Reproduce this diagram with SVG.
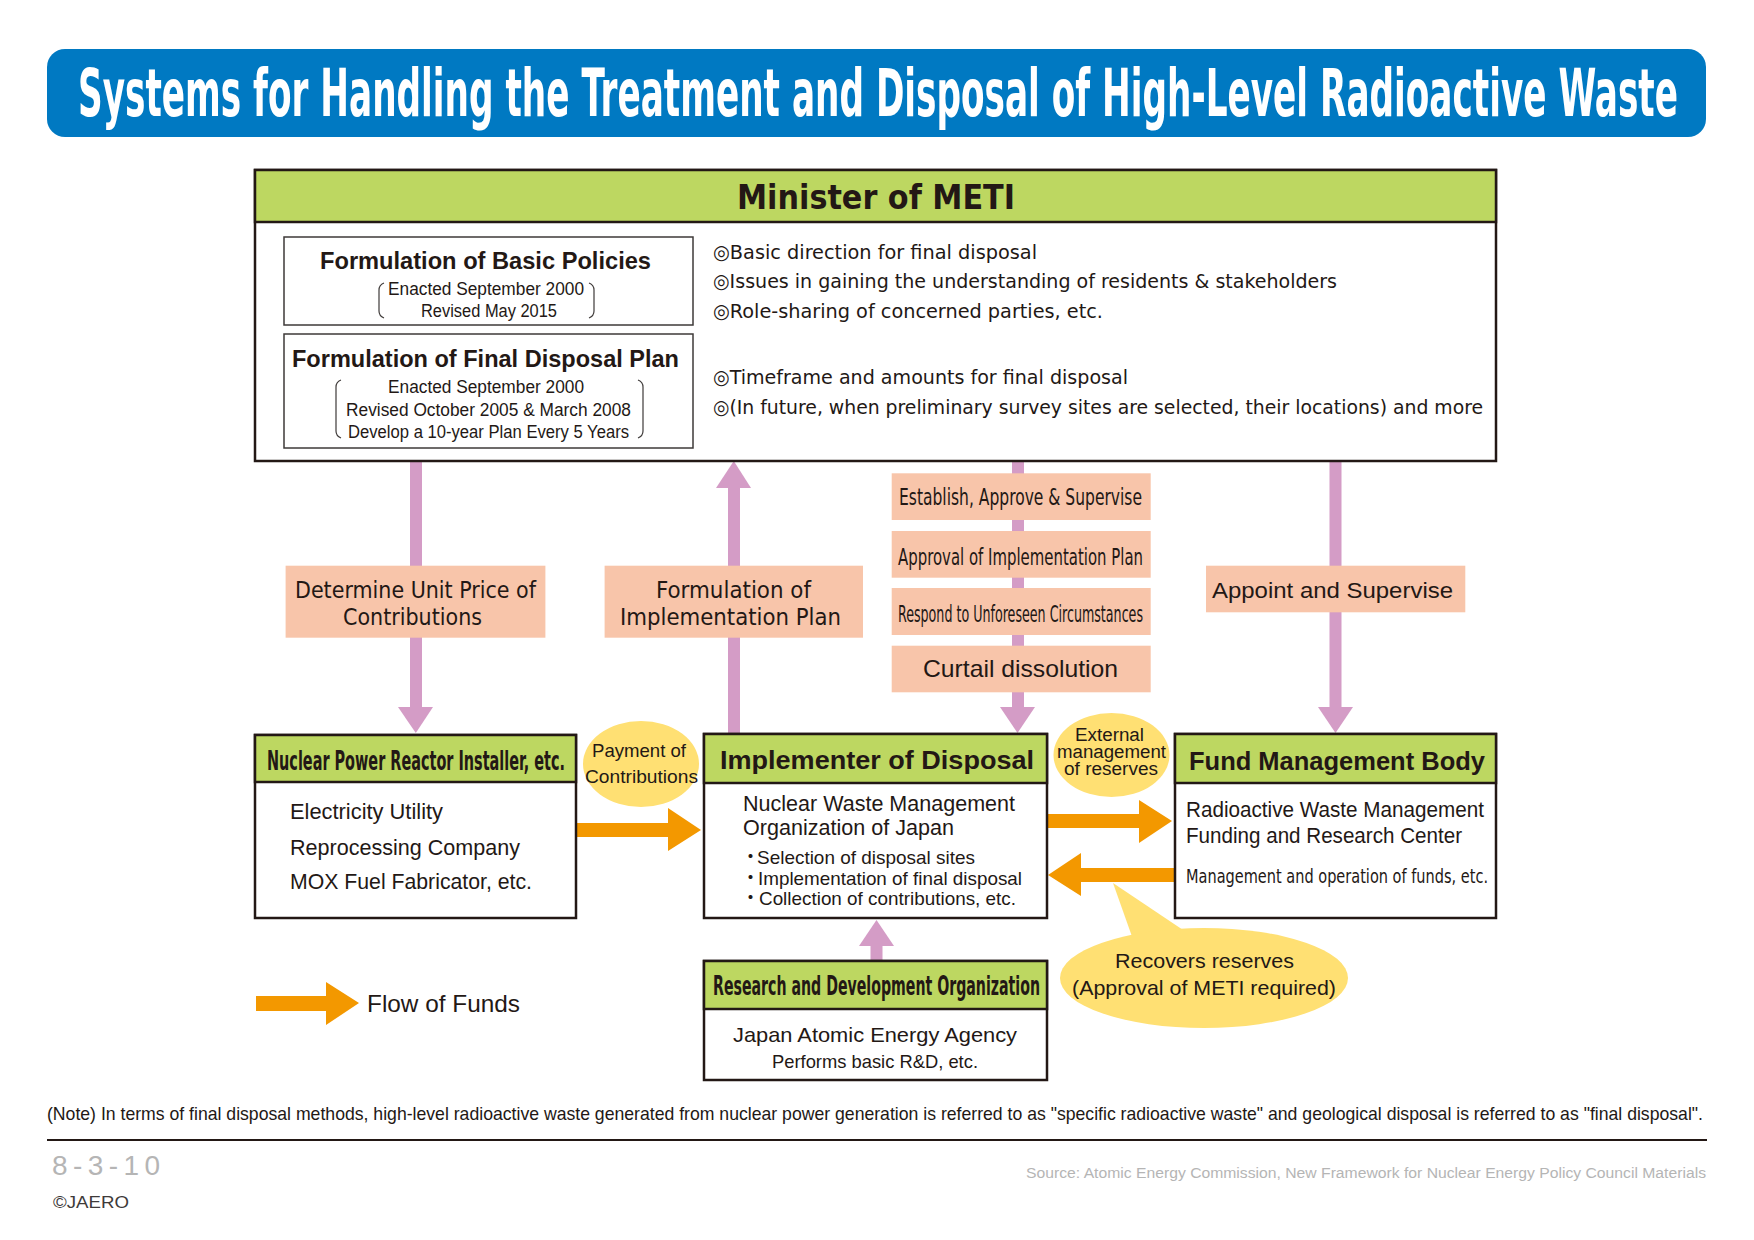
<svg xmlns="http://www.w3.org/2000/svg" width="1754" height="1240" viewBox="0 0 1754 1240">
<style>
text{fill:#231815}
.cb{font-family:"Liberation Sans Narrow","DejaVu Sans Condensed","Liberation Sans",sans-serif;font-weight:bold;font-stretch:condensed}
.cr{font-family:"Liberation Sans Narrow","DejaVu Sans Condensed","Liberation Sans",sans-serif;font-stretch:condensed}
.r{font-family:"Liberation Sans",Arial,"Noto Sans CJK JP",sans-serif}
.b{font-family:"Liberation Sans",Arial,sans-serif;font-weight:bold}
.box{fill:#fff;stroke:#231815;stroke-width:2.5}
.hdr{fill:#bdd761;stroke:#231815;stroke-width:2.5}
.inner{fill:#fff;stroke:#3e3a39;stroke-width:1.5}
.lbl{fill:#f8c5aa}
.pink{fill:#d49cc6}
.org{fill:#f39800}
.yel{fill:#ffe073}
.brk{fill:none;stroke:#3e3a39;stroke-width:1.2}
</style>
<rect width="1754" height="1240" fill="#fff"/>

<g id="title">
<rect x="47" y="49" width="1659" height="88" rx="18" fill="#0079c2"/>
<text class="cb" x="78" y="116" font-size="66" textLength="1600" lengthAdjust="spacingAndGlyphs" style="fill:#fff">Systems for Handling the Treatment and Disposal of High-Level Radioactive Waste</text>
</g>

<g id="connectors">
<!-- pink: METI -> Nuclear -->
<rect class="pink" x="410" y="461" width="12" height="247"/>
<polygon class="pink" points="398,707 433,707 415.8,733"/>
<!-- pink: Implementer -> METI -->
<rect class="pink" x="728" y="487" width="12" height="247"/>
<polygon class="pink" points="716,488 751,488 733.8,461"/>
<!-- pink: METI -> Implementer -->
<rect class="pink" x="1012" y="461" width="12" height="247"/>
<polygon class="pink" points="1000,707 1035,707 1017.5,733"/>
<!-- pink: METI -> Fund -->
<rect class="pink" x="1329.5" y="461" width="12" height="247"/>
<polygon class="pink" points="1318,707 1353,707 1335.5,733"/>
<!-- pink: R&D -> Implementer -->
<rect class="pink" x="870.5" y="945" width="12" height="17"/>
<polygon class="pink" points="859,946 894,946 876.5,920"/>

<!-- labels on pink connectors -->
<rect class="lbl" x="285.6" y="565.7" width="259.8" height="72"/>
<text class="cr" x="295" y="598" font-size="23" textLength="241" lengthAdjust="spacingAndGlyphs">Determine Unit Price of</text>
<text class="cr" x="343" y="625" font-size="23" textLength="139" lengthAdjust="spacingAndGlyphs">Contributions</text>

<rect class="lbl" x="604.6" y="565.7" width="258.4" height="72"/>
<text class="cr" x="656" y="598" font-size="23" textLength="155" lengthAdjust="spacingAndGlyphs">Formulation of</text>
<text class="cr" x="620" y="625" font-size="23" textLength="221" lengthAdjust="spacingAndGlyphs">Implementation Plan</text>

<rect class="lbl" x="891.7" y="473.3" width="259" height="46.7"/>
<text class="cr" x="899" y="505" font-size="23" textLength="243" lengthAdjust="spacingAndGlyphs">Establish, Approve &amp; Supervise</text>
<rect class="lbl" x="891.7" y="531" width="259" height="46.7"/>
<text class="cr" x="898" y="565" font-size="23" textLength="245" lengthAdjust="spacingAndGlyphs">Approval of Implementation Plan</text>
<rect class="lbl" x="891.7" y="588" width="259" height="47"/>
<text class="cr" x="898" y="622" font-size="23" textLength="245" lengthAdjust="spacingAndGlyphs">Respond to Unforeseen Circumstances</text>
<rect class="lbl" x="891.7" y="645.7" width="259" height="46.6"/>
<text class="r" x="923" y="677" font-size="24" textLength="195" lengthAdjust="spacingAndGlyphs">Curtail dissolution</text>

<rect class="lbl" x="1206" y="565.7" width="259.3" height="46.6"/>
<text class="r" x="1212" y="598" font-size="22.5" textLength="241" lengthAdjust="spacingAndGlyphs">Appoint and Supervise</text>

<!-- orange flow of funds -->
<polygon class="org" points="576,823 668,823 668,808 701,830 668,851 668,837 576,837"/>
<polygon class="org" points="1047,814 1139,814 1139,800 1172,821 1139,843 1139,828 1047,828"/>
<polygon class="org" points="1175,868 1081,868 1081,853 1048,875 1081,896 1081,882 1175,882"/>
</g>

<g id="meti">
<rect class="box" x="255" y="170" width="1241" height="291"/>
<rect class="hdr" x="255" y="170" width="1241" height="52"/>
<text class="cb" x="737" y="209" font-size="34" textLength="278" lengthAdjust="spacingAndGlyphs">Minister of METI</text>

<rect class="inner" x="284" y="237" width="409" height="88"/>
<text class="b" x="320" y="269" font-size="24" textLength="331" lengthAdjust="spacingAndGlyphs">Formulation of Basic Policies</text>
<text class="r" x="388" y="295" font-size="17.5" textLength="196" lengthAdjust="spacingAndGlyphs">Enacted September 2000</text>
<text class="r" x="421" y="317" font-size="17.5" textLength="136" lengthAdjust="spacingAndGlyphs">Revised May 2015</text>
<path class="brk" d="M384 283 Q379 285 379 290 L379 311 Q379 316 384 318"/>
<path class="brk" d="M589 283 Q594 285 594 290 L594 311 Q594 316 589 318"/>

<rect class="inner" x="284" y="334" width="409" height="114"/>
<text class="b" x="292" y="367" font-size="24" textLength="387" lengthAdjust="spacingAndGlyphs">Formulation of Final Disposal Plan</text>
<text class="r" x="388" y="393" font-size="17.5" textLength="196" lengthAdjust="spacingAndGlyphs">Enacted September 2000</text>
<text class="r" x="346" y="416" font-size="17.5" textLength="285" lengthAdjust="spacingAndGlyphs">Revised October 2005 &amp; March 2008</text>
<text class="r" x="348" y="438" font-size="17.5" textLength="281" lengthAdjust="spacingAndGlyphs">Develop a 10-year Plan Every 5 Years</text>
<path class="brk" d="M341 380 Q336 382 336 387 L336 431 Q336 436 341 438"/>
<path class="brk" d="M638 380 Q643 382 643 387 L643 431 Q643 436 638 438"/>

<text class="cr" x="713" y="259" font-size="20" textLength="324" lengthAdjust="spacingAndGlyphs">◎Basic direction for final disposal</text>
<text class="cr" x="713" y="288" font-size="20" textLength="624" lengthAdjust="spacingAndGlyphs">◎Issues in gaining the understanding of residents &amp; stakeholders</text>
<text class="cr" x="713" y="318" font-size="20" textLength="390" lengthAdjust="spacingAndGlyphs">◎Role-sharing of concerned parties, etc.</text>
<text class="cr" x="713" y="384" font-size="20" textLength="415" lengthAdjust="spacingAndGlyphs">◎Timeframe and amounts for final disposal</text>
<text class="cr" x="713" y="414" font-size="20" textLength="770" lengthAdjust="spacingAndGlyphs">◎(In future, when preliminary survey sites are selected, their locations) and more</text>
</g>

<g id="nuclear">
<rect class="box" x="255" y="735" width="321" height="183"/>
<rect class="hdr" x="255" y="735" width="321" height="47"/>
<text class="cb" x="267" y="770" font-size="26.5" textLength="298" lengthAdjust="spacingAndGlyphs">Nuclear Power Reactor Installer, etc.</text>
<text class="r" x="290" y="819" font-size="22" textLength="153" lengthAdjust="spacingAndGlyphs">Electricity Utility</text>
<text class="r" x="290" y="855" font-size="22" textLength="230" lengthAdjust="spacingAndGlyphs">Reprocessing Company</text>
<text class="r" x="290" y="889" font-size="22" textLength="242" lengthAdjust="spacingAndGlyphs">MOX Fuel Fabricator, etc.</text>
</g>

<g id="payment">
<ellipse class="yel" cx="641" cy="764" rx="58" ry="43"/>
<text class="r" x="592" y="757" font-size="19" textLength="94" lengthAdjust="spacingAndGlyphs">Payment of</text>
<text class="r" x="585" y="783" font-size="19" textLength="113" lengthAdjust="spacingAndGlyphs">Contributions</text>
</g>

<g id="implementer">
<rect class="box" x="704" y="734" width="343" height="184"/>
<rect class="hdr" x="704" y="734" width="343" height="49"/>
<text class="b" x="720" y="769" font-size="26.5" textLength="314" lengthAdjust="spacingAndGlyphs">Implementer of Disposal</text>
<text class="r" x="743" y="811" font-size="21.5" textLength="272" lengthAdjust="spacingAndGlyphs">Nuclear Waste Management</text>
<text class="r" x="743" y="835" font-size="21.5" textLength="211" lengthAdjust="spacingAndGlyphs">Organization of Japan</text>
<text class="r" x="741" y="864" font-size="19">・</text>
<text class="r" x="757" y="864" font-size="19" textLength="218" lengthAdjust="spacingAndGlyphs">Selection of disposal sites</text>
<text class="r" x="741" y="885" font-size="19">・</text>
<text class="r" x="758" y="885" font-size="19" textLength="264" lengthAdjust="spacingAndGlyphs">Implementation of final disposal</text>
<text class="r" x="741" y="905" font-size="19">・</text>
<text class="r" x="759" y="905" font-size="19" textLength="257" lengthAdjust="spacingAndGlyphs">Collection of contributions, etc.</text>
</g>

<g id="external">
<ellipse class="yel" cx="1111.5" cy="755" rx="58" ry="42"/>
<text class="r" x="1075" y="741" font-size="18" textLength="69" lengthAdjust="spacingAndGlyphs">External</text>
<text class="r" x="1057" y="758" font-size="18" textLength="109" lengthAdjust="spacingAndGlyphs">management</text>
<text class="r" x="1064" y="775" font-size="18" textLength="94" lengthAdjust="spacingAndGlyphs">of reserves</text>
</g>

<g id="fund">
<rect class="box" x="1175" y="734" width="321" height="184"/>
<rect class="hdr" x="1175" y="734" width="321" height="49"/>
<text class="b" x="1189" y="770" font-size="26.5" textLength="296" lengthAdjust="spacingAndGlyphs">Fund Management Body</text>
<text class="r" x="1186" y="817" font-size="22" textLength="298" lengthAdjust="spacingAndGlyphs">Radioactive Waste Management</text>
<text class="r" x="1186" y="843" font-size="22" textLength="276" lengthAdjust="spacingAndGlyphs">Funding and Research Center</text>
<text class="cr" x="1186" y="883" font-size="19" textLength="302" lengthAdjust="spacingAndGlyphs">Management and operation of funds, etc.</text>
</g>

<g id="recovers">
<polygon class="yel" points="1113,883 1135,945 1195,938"/>
<ellipse class="yel" cx="1204" cy="978" rx="144" ry="50"/>
<text class="r" x="1115" y="968" font-size="21" textLength="179" lengthAdjust="spacingAndGlyphs">Recovers reserves</text>
<text class="r" x="1072" y="995" font-size="21" textLength="264" lengthAdjust="spacingAndGlyphs">(Approval of METI required)</text>
</g>

<g id="rnd">
<rect class="box" x="704" y="961" width="343" height="119"/>
<rect class="hdr" x="704" y="961" width="343" height="48"/>
<text class="cb" x="713" y="995" font-size="26" textLength="327" lengthAdjust="spacingAndGlyphs">Research and Development Organization</text>
<text class="r" x="733" y="1042" font-size="21" textLength="284" lengthAdjust="spacingAndGlyphs">Japan Atomic Energy Agency</text>
<text class="r" x="772" y="1068" font-size="18.5" textLength="206" lengthAdjust="spacingAndGlyphs">Performs basic R&amp;D, etc.</text>
</g>

<g id="legend">
<polygon class="org" points="256,996 326,996 326,982 359,1003 326,1025 326,1011 256,1011"/>
<text class="r" x="367" y="1012" font-size="24.5" textLength="153" lengthAdjust="spacingAndGlyphs">Flow of Funds</text>
</g>

<g id="footer">
<text class="r" x="47" y="1120" font-size="18.5" textLength="1656" lengthAdjust="spacingAndGlyphs">(Note) In terms of final disposal methods, high-level radioactive waste generated from nuclear power generation is referred to as "specific radioactive waste" and geological disposal is referred to as "final disposal".</text>
<line x1="47" y1="1140" x2="1707" y2="1140" stroke="#231815" stroke-width="2"/>
<text class="r" x="52" y="1175" font-size="28" textLength="108" lengthAdjust="spacing" style="fill:#b5b5b5">8-3-10</text>
<text class="r" x="53" y="1208" font-size="17" textLength="76" lengthAdjust="spacingAndGlyphs" style="fill:#3e3a39">©JAERO</text>
<text class="r" x="1026" y="1178" font-size="15.5" textLength="680" lengthAdjust="spacingAndGlyphs" style="fill:#b5b5b5">Source: Atomic Energy Commission, New Framework for Nuclear Energy Policy Council Materials</text>
</g>
</svg>
